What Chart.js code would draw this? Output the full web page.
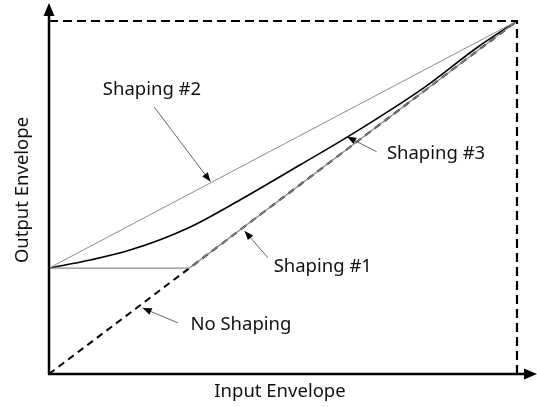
<!DOCTYPE html>
<html>
<head>
<meta charset="utf-8">
<script src="https://cdn.jsdelivr.net/npm/chart.js@4"></script>
<style>
  body { margin: 0; background: #fff; }
  #wrap { width: 537px; height: 407px; }
</style>
</head>
<body>
<div id="wrap"><canvas id="grafico" width="537" height="407"></canvas></div>
<script>
// data (x = input envelope, y = output envelope, 0..1)
const noShapingX = [0, 1];
const noShapingY = [0, 1];

const shaping1X = [0, 0.3, 1];
const shaping1Y = [0.3, 0.3, 1];

const shaping2X = [0, 1];
const shaping2Y = [0.3, 1];

const shaping3X = [0, 0.088, 0.173, 0.301, 0.408, 0.536, 0.637, 0.8, 0.915, 1];
const shaping3Y = [0.3, 0.323, 0.351, 0.416, 0.493, 0.592, 0.671, 0.81, 0.925, 1];

// label text, where it sits, and where its arrow points (data coords)
const labels = ['Shaping #2', 'Shaping #3', 'Shaping #1', 'No Shaping'];
const labelPos = [[0.22, 0.805], [0.827, 0.623], [0.585, 0.303], [0.41, 0.139]];
const arrowFrom = [[0.225, 0.756], [0.7, 0.63], [0.468, 0.329], [0.275, 0.145]];
const arrowTo = [[0.345, 0.545], [0.637, 0.672], [0.418, 0.405], [0.2, 0.187]];

const xTitle = 'Input Envelope';
const yTitle = 'Output Envelope';

const pts = (xs, ys) => xs.map((x, i) => ({ x: x, y: ys[i] }));

function arrowHead(ctx, x1, y1, x2, y2, len, half) {
  const a = Math.atan2(y2 - y1, x2 - x1);
  ctx.beginPath();
  ctx.moveTo(x2, y2);
  ctx.lineTo(x2 - len * Math.cos(a) + half * Math.sin(a), y2 - len * Math.sin(a) - half * Math.cos(a));
  ctx.lineTo(x2 - len * Math.cos(a) - half * Math.sin(a), y2 - len * Math.sin(a) + half * Math.cos(a));
  ctx.closePath();
  ctx.fill();
}

const desenho = {
  id: 'desenho',
  afterDatasetsDraw(chart) {
    const ctx = chart.ctx;
    const sx = chart.scales.x, sy = chart.scales.y;
    const x0 = sx.getPixelForValue(0), y0 = sy.getPixelForValue(0);
    const x1 = sx.getPixelForValue(1), y1 = sy.getPixelForValue(1);
    ctx.save();

    // axes with arrows
    ctx.strokeStyle = '#000';
    ctx.fillStyle = '#000';
    ctx.lineWidth = 2.5;
    ctx.setLineDash([]);
    ctx.beginPath();
    ctx.moveTo(x0, y0);
    ctx.lineTo(x0, 12);
    ctx.moveTo(x0 - 1, y0);
    ctx.lineTo(chart.width - 10, y0);
    ctx.stroke();
    arrowHead(ctx, x0, y0, x0, 3, 13, 5.5);
    arrowHead(ctx, x0, y0, chart.width, y0, 13, 5.5);

    // annotations
    ctx.font = '18.5px "Noto Sans", "Open Sans", sans-serif';
    ctx.textAlign = 'center';
    ctx.textBaseline = 'middle';
    labels.forEach((t, i) => {
      ctx.fillStyle = '#111';
      ctx.fillText(t, sx.getPixelForValue(labelPos[i][0]), sy.getPixelForValue(labelPos[i][1]));
      const ax = sx.getPixelForValue(arrowFrom[i][0]), ay = sy.getPixelForValue(arrowFrom[i][1]);
      const bx = sx.getPixelForValue(arrowTo[i][0]), by = sy.getPixelForValue(arrowTo[i][1]);
      ctx.strokeStyle = '#555';
      ctx.lineWidth = 0.9;
      ctx.beginPath();
      ctx.moveTo(ax, ay);
      ctx.lineTo(bx, by);
      ctx.stroke();
      ctx.fillStyle = '#000';
      arrowHead(ctx, ax, ay, bx, by, 9, 3.5);
    });

    // axis titles
    ctx.fillStyle = '#111';
    ctx.font = '18.5px "Noto Sans", "Open Sans", sans-serif';
    ctx.fillText(xTitle, 280, 392);
    ctx.translate(23, 190);
    ctx.rotate(-Math.PI / 2);
    ctx.fillText(yTitle, 0, 0);
    ctx.restore();
  }
};

const ctx = document.getElementById('grafico').getContext('2d');
const grafico = new Chart(ctx, {
  type: 'line',
  data: {
    datasets: [
      {
        label: 'Limite',
        data: pts([0, 1, 1], [1, 1, 0]),
        borderColor: '#000',
        borderWidth: 2.2,
        borderDash: [9, 5],
        pointRadius: 0,
        clip: false
      },
      {
        label: 'Shaping #2',
        data: pts(shaping2X, shaping2Y),
        borderColor: '#8a8a8a',
        borderWidth: 1,
        pointRadius: 0,
        clip: false
      },
      {
        label: 'Shaping #1',
        data: pts(shaping1X, shaping1Y),
        borderColor: '#8a8a8a',
        borderWidth: 1.2,
        pointRadius: 0,
        clip: false
      },
      {
        label: 'No Shaping',
        data: pts(noShapingX, noShapingY),
        borderColor: '#000',
        borderWidth: 2,
        borderDash: [7, 5],
        pointRadius: 0,
        clip: false
      },
      {
        label: 'Shaping #3',
        data: pts(shaping3X, shaping3Y),
        borderColor: '#000',
        borderWidth: 1.6,
        pointRadius: 0,
        cubicInterpolationMode: 'monotone',
        clip: false
      }
    ]
  },
  options: {
    responsive: false,
    animation: false,
    layout: { padding: { left: 49, right: 20, top: 21, bottom: 33 } },
    scales: {
      x: { type: 'linear', min: 0, max: 1, display: false },
      y: { type: 'linear', min: 0, max: 1, display: false }
    },
    plugins: {
      legend: { display: false },
      tooltip: { enabled: false }
    }
  },
  plugins: [desenho]
});
</script>
</body>
</html>
